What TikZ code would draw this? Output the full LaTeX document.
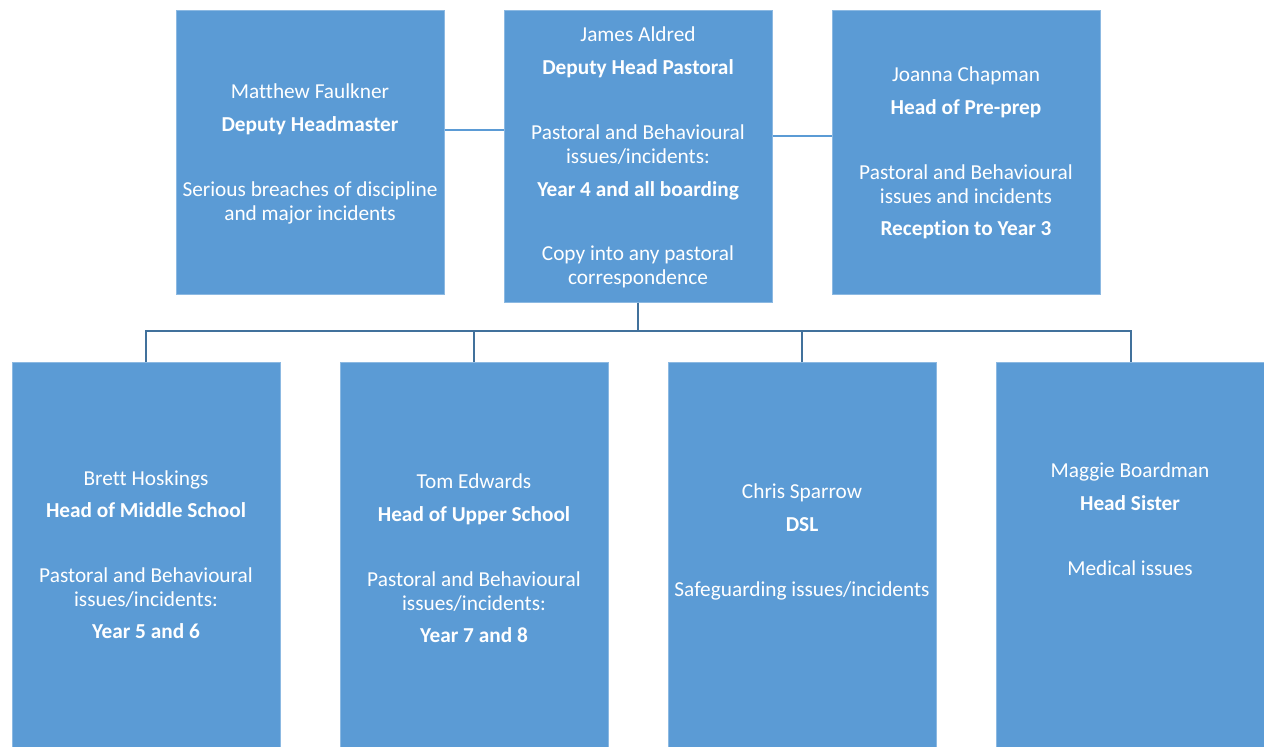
\documentclass[tikz,border=0pt]{standalone}
\usepackage{fontspec}
\setmainfont[Ligatures=NoCommon]{Carlito}
\definecolor{boxblue}{HTML}{5B9BD5}
\definecolor{linedark}{HTML}{41719C}
\begin{document}
\begin{tikzpicture}[x=1pt,y=-1pt,
  box/.style={draw=boxblue!70!white,line width=0.6pt,fill=boxblue,inner sep=0pt,anchor=north west},
  tx/.style={text=white,font=\fontsize{21.3}{25}\selectfont,inner sep=0pt,text height=14pt,text depth=5pt,yshift=-3pt},
  bx/.style={tx,font=\fontsize{21.3}{25}\selectfont\bfseries},
  lnk/.style={draw=boxblue,line width=1.5pt},
  tree/.style={draw=linedark,line width=2pt}]
\useasboundingbox (0,0) rectangle (1264,747);
\fill[white] (0,0) rectangle (1264,747);
% top row
\node[box,minimum width=268pt,minimum height=284pt] (mf) at (176,10) {};
\node[box,minimum width=268pt,minimum height=292pt] (ja) at (504,10) {};
\node[box,minimum width=268pt,minimum height=284pt] (jc) at (832,10) {};
% bottom row
\node[box,minimum width=268pt,minimum height=390pt] (bh) at (12,362) {};
\node[box,minimum width=268pt,minimum height=390pt] (te) at (340,362) {};
\node[box,minimum width=268pt,minimum height=390pt] (cs) at (668,362) {};
\node[box,minimum width=268pt,minimum height=390pt] (mb) at (996,362) {};
% connectors
\draw[lnk] (mf.east |- 0,130) -- (ja.west |- 0,130);
\draw[lnk] (ja.east |- 0,136) -- (jc.west |- 0,136);
\coordinate (hub) at (638,331);
\draw[tree] (ja.south -| hub) -- (hub);
\draw[tree] (bh.north -| 146,0) -- (146,331) -- (1131,331) -- (mb.north -| 1131,0);
\draw[tree] (te.north -| 474,0) -- (474,331);
\draw[tree] (cs.north -| 802,0) -- (802,331);
% texts: Matthew
\node[tx] (mf1) at (310,91) {Matthew Faulkner};
\node[bx] (mf2) at (310,124) {Deputy Headmaster};
\node[tx] (mf3) at (310,189) {Serious breaches of discipline};
\node[tx] (mf4) at (310,213) {and major incidents};
% James
\node[tx] (ja1) at (638,34) {James Aldred};
\node[bx] (ja2) at (638,67) {Deputy Head Pastoral};
\node[tx] (ja3) at (638,132) {Pastoral and Behavioural};
\node[tx] (ja4) at (638,156) {issues/incidents:};
\node[bx] (ja5) at (638,189) {Year 4 and all boarding};
\node[tx] (ja6) at (638,253) {Copy into any pastoral};
\node[tx] (ja7) at (638,277) {correspondence};
% Joanna
\node[tx] (jc1) at (966,74) {Joanna Chapman};
\node[bx] (jc2) at (966,107) {Head of Pre-prep};
\node[tx] (jc3) at (966,172) {Pastoral and Behavioural};
\node[tx] (jc4) at (966,196) {issues and incidents};
\node[bx] (jc5) at (966,228) {Reception to Year 3};
% Brett
\node[tx] (bh1) at (146,478) {Brett Hoskings};
\node[bx] (bh2) at (146,510) {Head of Middle School};
\node[tx] (bh3) at (146,575) {Pastoral and Behavioural};
\node[tx] (bh4) at (146,599) {issues/incidents:};
\node[bx] (bh5) at (146,631) {Year 5 and 6};
% Tom
\node[tx] (te1) at (474,481) {Tom Edwards};
\node[bx] (te2) at (474,514) {Head of Upper School};
\node[tx] (te3) at (474,579) {Pastoral and Behavioural};
\node[tx] (te4) at (474,603) {issues/incidents:};
\node[bx] (te5) at (474,635) {Year 7 and 8};
% Chris
\node[tx] (cs1) at (802,491) {Chris Sparrow};
\node[bx] (cs2) at (802,524) {DSL};
\node[tx] (cs3) at (802,589) {Safeguarding issues/incidents};
% Maggie
\node[tx] (mb1) at (1130,470) {Maggie Boardman};
\node[bx] (mb2) at (1130,503) {Head Sister};
\node[tx] (mb3) at (1130,568) {Medical issues};
\end{tikzpicture}
\end{document}
